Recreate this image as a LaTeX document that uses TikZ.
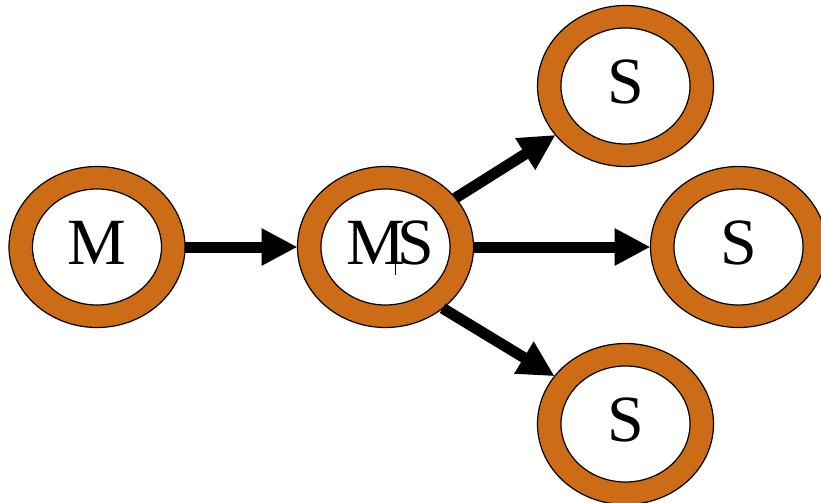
\documentclass[tikz,border=0pt]{standalone}
\usepackage{fontspec}
\setmainfont{Liberation Serif}
\usetikzlibrary{shapes.geometric,arrows.meta}
\definecolor{ringorange}{RGB}{204,108,22}
\begin{document}
\begin{tikzpicture}[x=0.75pt, y=-0.75pt,
  ring/.style={ellipse, draw, line width=0.9pt, fill=ringorange,
    minimum width=132pt, minimum height=120.75pt, inner sep=0pt, outer sep=0pt,
    font=\fontsize{49.5}{52}\selectfont, text depth=6pt,
    path picture={\draw[line width=0.9pt, fill=white] (path picture bounding box.center)
      ellipse [x radius=48.4pt, y radius=43.5pt];}},
  flow/.style={-{Triangle[length=27pt, width=26.25pt]}, line width=8.25pt}]
  \useasboundingbox (0,0) rectangle (821,503);
  % Nodes
  \node (M) [ring] at (97, 247) {M};
  \node (MS) [ring] at (385.5, 247) {\kern7.5pt M\kern-5.5pt S};
  \node (Stop) [ring] at (625.5, 86) {S};
  \node (Smid) [ring] at (738.5, 247) {S};
  \node (Sbot) [ring] at (625.5, 424) {S};
  % Arrows
  \draw[flow] (M) -- (MS);
  \draw[flow] (MS.35) -- (Stop.-145);
  \draw[flow] (MS) -- (Smid);
  \draw[flow] (MS.-47) -- (Sbot.146);
  % Cursor mark
  \draw[line width=0.8pt] ([xshift=7.3pt, yshift=18.75pt]MS.center) -- ++(0,-39.75pt);
\end{tikzpicture}
\end{document}
